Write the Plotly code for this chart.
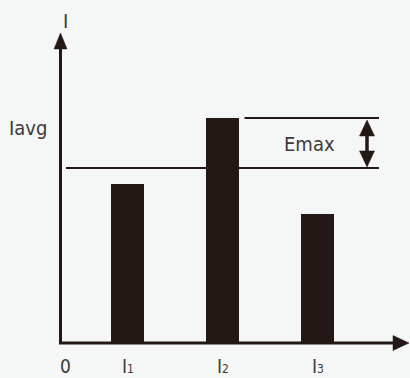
import plotly.graph_objects as go

# ---- data ----
bar_labels = ["1", "2", "3"]
bar_positions = [1, 2, 3]
bar_values = [70.7, 100.0, 57.3]
iavg_value = 77.8
origin_x = 0.2947
axis_label = "I"
avg_label = "Iavg"
err_label = "Emax"

# ---- styling ----
BG = "#f5f6f6"
INK = "#231815"
TXT = "#3e3a39"
FONT = "DejaVu Sans Condensed, DejaVu Sans, sans-serif"
W, H = 410, 378
XR = [-0.3421, 3.9737]
YR = [-15.556, 152.444]
PX_X = W / (XR[1] - XR[0])   # pixels per x unit
PX_Y = H / (YR[1] - YR[0])   # pixels per y unit


def dx(px):
    return px / PX_X


def dy(px):
    return px / PX_Y


fig = go.Figure()

fig.add_trace(go.Bar(
    x=bar_positions, y=bar_values, width=dx(33),
    marker=dict(color=INK, line=dict(width=0)),
    hoverinfo="skip", showlegend=False,
))

y_top = dy(343 - 33)
x_end = dx(409 - 32.5)
shapes = []
# axes
shapes.append(dict(type="line", x0=origin_x, x1=origin_x, y0=0, y1=y_top - dy(10),
                   line=dict(color=INK, width=3), layer="above"))
shapes.append(dict(type="line", x0=origin_x - dx(1.5), x1=x_end - dx(10), y0=0, y1=0,
                   line=dict(color=INK, width=3), layer="above"))
# average line and max line
x_line_end = x_end - dx(30)
shapes.append(dict(type="line", x0=origin_x + dx(5.5), x1=x_line_end, y0=iavg_value, y1=iavg_value,
                   line=dict(color=INK, width=2), layer="above"))
shapes.append(dict(type="line", x0=bar_positions[1] + dx(22), x1=x_line_end,
                   y0=max(bar_values), y1=max(bar_values),
                   line=dict(color=INK, width=2), layer="above"))
# double arrow shaft
xa = x_line_end - dx(12)
shapes.append(dict(type="line", x0=xa, x1=xa, y0=iavg_value + dy(10), y1=max(bar_values) - dy(10),
                   line=dict(color=INK, width=3.5), layer="above"))
fig.update_layout(shapes=shapes)


def tri(tipx, tipy, basex, basey, half_x, half_y):
    fig.add_trace(go.Scatter(
        x=[tipx, basex + half_x, basex - half_x, tipx],
        y=[tipy, basey + half_y, basey - half_y, tipy],
        mode="lines", fill="toself", fillcolor=INK,
        line=dict(color=INK, width=0.5), hoverinfo="skip", showlegend=False,
    ))


# y axis arrow
tri(origin_x, y_top, origin_x, y_top - dy(16), dx(6.5), 0)
# x axis arrow
tri(x_end, 0, x_end - dx(16), 0, 0, dy(7.5))
# double arrow heads
tri(xa, max(bar_values) - dy(2), xa, max(bar_values) - dy(18), dx(7.5), 0)
tri(xa, iavg_value + dy(1), xa, iavg_value + dy(17), dx(7.5), 0)

ann = []
ann.append(dict(x=origin_x + dx(5), y=dy(343 - 21), text=axis_label, showarrow=False,
                xanchor="center", yanchor="middle", font=dict(size=20, color=TXT, family=FONT)))
ann.append(dict(x=dx(28 - 32.5), y=dy(343 - 128), text=avg_label, showarrow=False,
                xanchor="center", yanchor="middle", font=dict(size=20, color=TXT, family=FONT)))
ann.append(dict(x=dx(309 - 32.5), y=dy(343 - 144), text=err_label, showarrow=False,
                xanchor="center", yanchor="middle", font=dict(size=20, color=TXT, family=FONT)))
ann.append(dict(x=origin_x + dx(5), y=-dy(23), text="0", showarrow=False,
                xanchor="center", yanchor="middle", font=dict(size=19, color=TXT, family=FONT)))
for p, lab in zip(bar_positions, bar_labels):
    ann.append(dict(x=p, y=-dy(23),
                    text="I<span style='font-size:12px'>" + lab + "</span>",
                    showarrow=False, xanchor="center", yanchor="middle",
                    font=dict(size=19, color=TXT, family=FONT)))
fig.update_layout(annotations=ann)

fig.update_layout(
    width=W, height=H, autosize=False,
    margin=dict(l=0, r=0, t=0, b=0, pad=0),
    paper_bgcolor=BG, plot_bgcolor=BG,
    xaxis=dict(range=XR, visible=False, fixedrange=True),
    yaxis=dict(range=YR, visible=False, fixedrange=True),
    bargap=0,
)

fig.write_html(
    "out.html",
    config={"displayModeBar": False},
    post_script="document.body.style.margin='0';document.body.style.overflow='hidden';"
                "document.body.style.background='" + BG + "';",
)
